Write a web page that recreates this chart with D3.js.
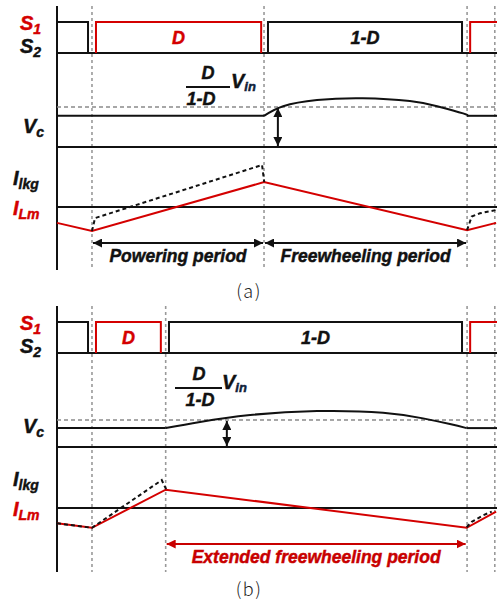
<!DOCTYPE html>
<html>
<head>
<meta charset="utf-8">
<script src="https://cdn.jsdelivr.net/npm/d3@7"></script>
<style>
  body { margin: 0; background: #fff; }
  text { font-family: "Liberation Sans", Arial, sans-serif; font-weight: bold; font-style: italic; }
  text.caption { font-family: "Noto Sans CJK KR", "Noto Sans", sans-serif; font-weight: 300; font-style: normal; }
</style>
</head>
<body>
<div id="chart"></div>
<script>
// time runs 0..100 across the plot (arbitrary units), values are normalised

// ---- panel (a) ----
const guidesA = [7.95, 47.05, 93.2, 99.5];
const s1PulsesA = [[8.86, 46.4], [93.9, 100]];
const s2PulsesA = [[0, 7.05], [47.95, 92.05]];
const vcFlatA = 0.78;
const vcTimeA = [47.05, 51.4, 59.1, 69.5, 80.2, 86.4, 92.3, 93.2];
const vcValueA = [0.78, 1.02, 1.175, 1.22, 1.15, 1.02, 0.84, 0.78];
const vcArrowA = 50.2;
const iLmTimeA = [0, 7.95, 47.05, 93.2, 99.8];
const iLmValueA = [-0.53, -0.8, 0.83, -0.77, -0.53];
const iLkgTimeA = [[7.95, 8.64, 46.6, 47.1], [93.2, 94.25, 96.1, 99.8]];
const iLkgValueA = [[-0.8, -0.37, 1.4, 0.83], [-0.77, -0.32, -0.21, -0.1]];
const periodsA = [[7.95, 47.05, "Powering period"], [47.05, 93.2, "Freewheeling period"]];

// ---- panel (b) ----
const guidesB = [7.95, 24.7, 93.2, 99.5];
const s1PulsesB = [[8.86, 23.6], [93.9, 100]];
const s2PulsesB = [[0, 7.05], [25.45, 92.05]];
const vcFlatB = 0.70;
const vcTimeB = [24.7, 32.5, 43.9, 59.1, 74.1, 83.2, 89.3, 93.1];
const vcValueB = [0.70, 0.93, 1.185, 1.33, 1.27, 1.06, 0.85, 0.70];
const vcArrowB = 38.6;
const iLmTimeB = [0, 7.95, 24.7, 93.1, 99.8];
const iLmValueB = [-0.51, -0.66, 0.61, -0.66, -0.12];
const iLkgTimeB = [[0, 7.95, 23.8, 24.8], [93.1, 94.25, 96.9, 98.8]];
const iLkgValueB = [[-0.51, -0.66, 0.93, 0.63], [-0.64, -0.46, -0.24, -0.12]];
const periodsB = [[24.7, 93.1, "Extended freewheeling period"]];

const RED = "#d40000", BLACK = "#111", GRAY = "#999";

const width = 497, height = 600;
const svg = d3.select("#chart").append("svg")
  .attr("width", width)
  .attr("height", height);

const defs = svg.append("defs");
[["ah-black", BLACK], ["ah-red", "#c80000"]].forEach(function (m) {
  defs.append("marker")
    .attr("id", m[0])
    .attr("viewBox", "0 0 10 10")
    .attr("refX", 10).attr("refY", 5)
    .attr("markerWidth", 4.5).attr("markerHeight", 4.5)
    .attr("orient", "auto-start-reverse")
    .append("path")
    .attr("d", "M0,0L10,5L0,10z")
    .attr("fill", m[1]);
});

var x = d3.scaleLinear().domain([0, 100]).range([57, 497]);

// bold italic label text, slightly heavier than the font alone
function txt(g, xp, yp, size, col) {
  return g.append("text").attr("x", xp).attr("y", yp)
    .attr("font-size", size).attr("fill", col)
    .attr("stroke", col).attr("stroke-width", 0.45);
}

function drawPanel(p) {
  var L = p.layout;
  var g = svg.append("g");
  var yS = d3.scaleLinear().domain([0, 1]).range([L.sLow, L.sHigh]);
  var yV = d3.scaleLinear().domain([0, 1]).range([L.vcBase, L.vcRef]);
  var yI = d3.scaleLinear().domain([-1, 1]).range([L.iZero + 30, L.iZero - 30]);

  // dashed time guides
  g.selectAll(".guide").data(p.guides).enter().append("line")
    .attr("x1", function (d) { return x(d); })
    .attr("x2", function (d) { return x(d); })
    .attr("y1", L.top).attr("y2", L.bottom)
    .attr("stroke", GRAY).attr("stroke-width", 1.6)
    .attr("stroke-dasharray", "3,3");

  // left axis
  g.append("line")
    .attr("x1", x(0)).attr("x2", x(0))
    .attr("y1", L.top).attr("y2", L.bottom)
    .attr("stroke", BLACK).attr("stroke-width", 2);

  // switch signals
  g.append("line")
    .attr("x1", x(0)).attr("x2", x(100))
    .attr("y1", yS(0)).attr("y2", yS(0))
    .attr("stroke", BLACK).attr("stroke-width", 2);

  function pulsePath(d) {
    var s = d[0] > 0 ? "M" + x(d[0]) + "," + yS(0) + "L" + x(d[0]) + "," + yS(1)
                     : "M" + x(d[0]) + "," + yS(1);
    s += "L" + x(d[1]) + "," + yS(1);
    if (d[1] < 100) s += "L" + x(d[1]) + "," + yS(0);
    return s;
  }
  g.selectAll(".s2").data(p.s2).enter().append("path")
    .attr("d", pulsePath).attr("fill", "none")
    .attr("stroke", BLACK).attr("stroke-width", 2);
  g.selectAll(".s1").data(p.s1).enter().append("path")
    .attr("d", pulsePath).attr("fill", "none")
    .attr("stroke", RED).attr("stroke-width", 2);

  txt(g, x((p.s1[0][0] + p.s1[0][1]) / 2), yS(0.5) + 6.5, 18, RED)
    .attr("text-anchor", "middle").text("D");
  txt(g, x((p.s2[1][0] + p.s2[1][1]) / 2), yS(0.5) + 6.5, 18, BLACK)
    .attr("text-anchor", "middle").text("1-D");

  // capacitor voltage
  g.append("line")
    .attr("x1", x(0)).attr("x2", x(100))
    .attr("y1", yV(1)).attr("y2", yV(1))
    .attr("stroke", "#8a8a8a").attr("stroke-width", 1.6)
    .attr("stroke-dasharray", "4,3");
  g.append("line")
    .attr("x1", x(0)).attr("x2", x(100))
    .attr("y1", yV(0)).attr("y2", yV(0))
    .attr("stroke", BLACK).attr("stroke-width", 2);

  var vt = p.vcTime, vv = p.vcValue;
  var flat = d3.line().x(function (d) { return x(d[0]); }).y(function (d) { return yV(d[1]); });
  g.append("path")
    .attr("d", flat([[0, p.vcFlat], [vt[0], p.vcFlat]]))
    .attr("stroke", BLACK).attr("stroke-width", 2).attr("fill", "none");
  g.append("path")
    .attr("d", flat([[vt[vt.length - 1], p.vcFlat], [100, p.vcFlat]]))
    .attr("stroke", BLACK).attr("stroke-width", 2).attr("fill", "none");
  var arc = d3.line().curve(d3.curveNatural)
    .x(function (d, i) { return x(vt[i]); })
    .y(function (d) { return yV(d); });
  g.append("path").attr("d", arc(vv))
    .attr("stroke", BLACK).attr("stroke-width", 2).attr("fill", "none");

  g.append("line")
    .attr("x1", x(p.vcArrow)).attr("x2", x(p.vcArrow))
    .attr("y1", yV(1) + 1).attr("y2", yV(0) - 1)
    .attr("stroke", BLACK).attr("stroke-width", 2)
    .attr("marker-start", "url(#ah-black)").attr("marker-end", "url(#ah-black)");

  // D/(1-D) Vin
  var f = L.frac;
  g.append("line").attr("x1", f.x0).attr("x2", f.x1).attr("y1", f.y).attr("y2", f.y)
    .attr("stroke", BLACK).attr("stroke-width", 2);
  txt(g, f.dx, f.y - 8, 18, BLACK).attr("text-anchor", "middle").text("D");
  txt(g, f.ox, f.y + 18, 18, BLACK).attr("text-anchor", "middle").text("1-D");
  var vin = txt(g, f.vx, f.y + 1, 20, BLACK);
  vin.append("tspan").text("V");
  vin.append("tspan").attr("font-size", 13).attr("dy", 3)
    .attr("fill", "#10223a").attr("stroke", "#10223a").text("in");

  // currents
  g.append("line")
    .attr("x1", x(0)).attr("x2", x(100))
    .attr("y1", yI(0)).attr("y2", yI(0))
    .attr("stroke", BLACK).attr("stroke-width", 2);
  var cur = d3.line().x(function (d) { return x(d[0]); }).y(function (d) { return yI(d[1]); });
  g.append("path")
    .attr("d", cur(d3.zip(p.iLmTime, p.iLmValue)))
    .attr("stroke", RED).attr("stroke-width", 2).attr("fill", "none");
  p.iLkgTime.forEach(function (ts, k) {
    g.append("path")
      .attr("d", cur(d3.zip(ts, p.iLkgValue[k])))
      .attr("stroke", BLACK).attr("stroke-width", 2).attr("fill", "none")
      .attr("stroke-dasharray", "4,3");
  });

  // period arrows
  p.periods.forEach(function (d) {
    var col = p.periodColor;
    g.append("line")
      .attr("x1", x(d[0]) + 1).attr("x2", x(d[1]) - 1)
      .attr("y1", L.arrowY).attr("y2", L.arrowY)
      .attr("stroke", col).attr("stroke-width", 2)
      .attr("marker-start", "url(#" + p.marker + ")")
      .attr("marker-end", "url(#" + p.marker + ")");
    txt(g, x((d[0] + d[1]) / 2), L.arrowY + 19, 17.5, col)
      .attr("text-anchor", "middle").text(d[2]);
  });

  // row labels
  function label(xp, yp, main, sub, col) {
    var t = txt(g, xp, yp, 20, col);
    t.append("tspan").text(main);
    t.append("tspan").attr("font-size", 14).attr("dy", 4).text(sub);
  }
  label(20, L.sHigh + 8, "S", "1", RED);
  label(20, L.sLow, "S", "2", BLACK);
  label(23, L.vcLabel, "V", "c", BLACK);
  label(13, L.iZero - 22, "I", "lkg", BLACK);
  label(13, L.iZero + 8, "I", "Lm", RED);

  g.append("text").attr("class", "caption")
    .attr("x", 249).attr("y", L.caption)
    .attr("text-anchor", "middle").attr("font-size", 18)
    .attr("letter-spacing", 1.5).attr("fill", "#222")
    .text(p.caption);
}

drawPanel({
  guides: guidesA, s1: s1PulsesA, s2: s2PulsesA,
  vcFlat: vcFlatA, vcTime: vcTimeA, vcValue: vcValueA, vcArrow: vcArrowA,
  iLmTime: iLmTimeA, iLmValue: iLmValueA, iLkgTime: iLkgTimeA, iLkgValue: iLkgValueA,
  periods: periodsA, periodColor: BLACK, marker: "ah-black", caption: "(a)",
  layout: { top: 6, bottom: 270, sHigh: 22, sLow: 53, vcBase: 147, vcRef: 107,
            vcLabel: 133, iZero: 207, arrowY: 243, caption: 298,
            frac: { x0: 186, x1: 230, y: 87, dx: 208, ox: 201, vx: 231 } }
});

drawPanel({
  guides: guidesB, s1: s1PulsesB, s2: s2PulsesB,
  vcFlat: vcFlatB, vcTime: vcTimeB, vcValue: vcValueB, vcArrow: vcArrowB,
  iLmTime: iLmTimeB, iLmValue: iLmValueB, iLkgTime: iLkgTimeB, iLkgValue: iLkgValueB,
  periods: periodsB, periodColor: "#c80000", marker: "ah-red", caption: "(b)",
  layout: { top: 306, bottom: 572, sHigh: 322, sLow: 353, vcBase: 447, vcRef: 420,
            vcLabel: 433, iZero: 508, arrowY: 544, caption: 596,
            frac: { x0: 175, x1: 222, y: 388, dx: 199, ox: 200, vx: 222 } }
});
</script>
</body>
</html>
